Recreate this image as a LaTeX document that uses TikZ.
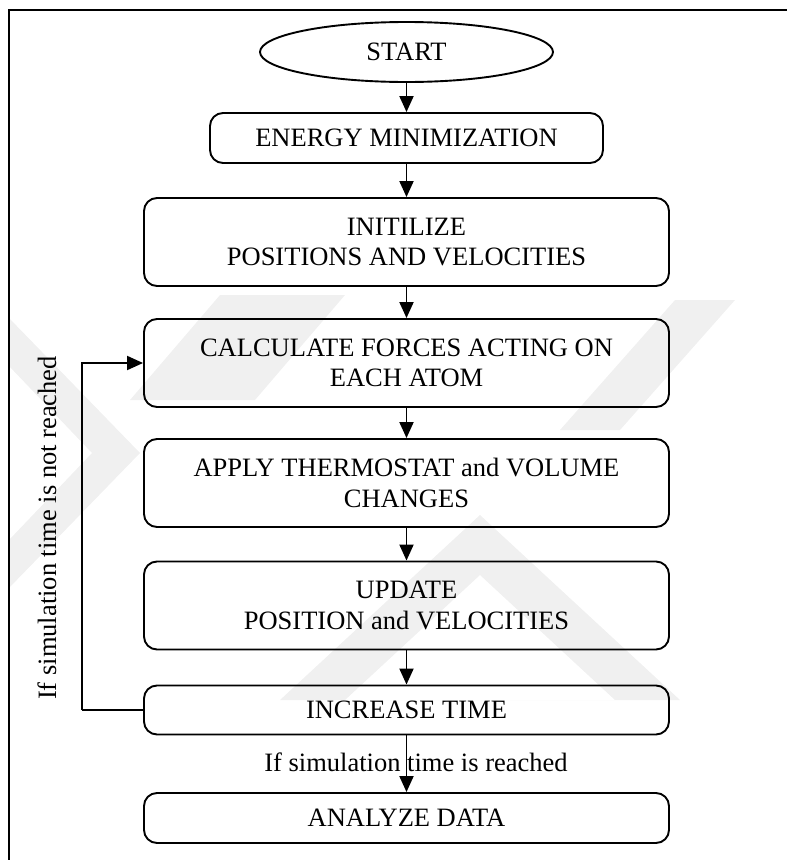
\documentclass[tikz,border=0pt]{standalone}
\usepackage{fontspec}
\setmainfont{Liberation Serif}
\usetikzlibrary{shapes.geometric,arrows.meta}
\begin{document}
\begin{tikzpicture}[x=1pt,y=-1pt,
  txt/.style={font=\fontsize{26.5}{30.5}\selectfont},
  box/.style={txt,draw,line width=1.9pt,rounded corners=13pt,minimum width=525pt,align=center,inner sep=0pt},
  flow/.style={line width=1.9pt,-{Triangle[length=16pt,width=14pt]}},
  link/.style={line width=1.3pt},
  frame/.style={line width=2.4pt},
  wm/.style={fill=black!6}]
\useasboundingbox (0,0) rectangle (787,860);
% faint watermark
\fill[wm] (9,318) -- (140,453) -- (9,588) -- (9,540) -- (92,453) -- (9,366) -- cycle;
\fill[wm,even odd rule] (280,700) -- (480,515) -- (680,700) -- cycle (345,700) -- (480,575) -- (615,700) -- cycle;
\fill[wm] (220,295) -- (345,295) -- (255,400) -- (130,400) -- cycle;
\fill[wm] (675,300) -- (735,300) -- (620,430) -- (560,430) -- cycle;
% frame
\draw[frame] (9,860) -- (9,10) -- (787,10);
% nodes
\node[txt,draw,ellipse,line width=1.9pt,minimum width=293pt,minimum height=60pt,inner sep=0pt] (start) at (406.5,52) {START};
\node[box,minimum width=393pt,minimum height=50pt] (energy) at (406.5,138) {ENERGY MINIMIZATION};
\node[box,minimum height=88pt] (init) at (406.5,242) {INITILIZE\\POSITIONS AND VELOCITIES};
\node[box,minimum height=88pt] (calc) at (406.5,363) {CALCULATE FORCES ACTING ON\\EACH ATOM};
\node[box,minimum height=88pt] (apply) at (406.5,483) {APPLY THERMOSTAT and VOLUME\\CHANGES};
\node[box,minimum height=88pt] (update) at (406.5,605.5) {UPDATE\\POSITION and VELOCITIES};
\node[box,minimum height=49pt] (incr) at (406.5,710) {INCREASE TIME};
\node[box,minimum height=50pt] (analyze) at (406.5,818) {ANALYZE DATA};
\node[txt,inner sep=0pt] (reach) at (416,762) {If simulation time is reached};
\node[txt,inner sep=0pt,rotate=90] (notreach) at (47,528) {If simulation time is not reached};
\coordinate (fb) at (82,710);
% connectors
\draw[flow] (start) -- (energy);
\draw[flow] (energy) -- (init);
\draw[flow] (init) -- (calc);
\draw[flow] (calc) -- (apply);
\draw[flow] (apply) -- (update);
\draw[flow] (update) -- (incr);
\draw[flow] (incr) -- (analyze);
\draw[link] (incr.west) -- (fb);
\draw[flow] (fb) |- (calc.west);
\end{tikzpicture}
\end{document}
